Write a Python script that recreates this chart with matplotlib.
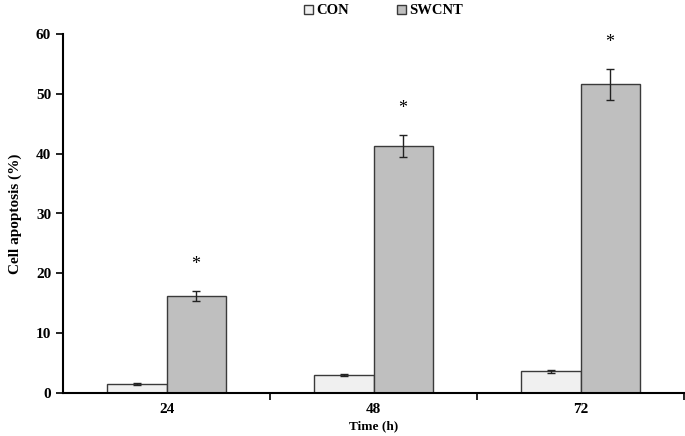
import matplotlib
matplotlib.use("Agg")
import matplotlib.pyplot as plt
import numpy as np

# values
times = ["24", "48", "72"]
con = [1.5, 3.0, 3.6]
con_err = [0.1, 0.15, 0.2]
swcnt = [16.2, 41.3, 51.6]
swcnt_err = [0.9, 1.9, 2.6]

plt.rcParams['font.family'] = ['Liberation Serif', 'DejaVu Serif']
plt.rcParams['font.weight'] = 'bold'

fig = plt.figure(figsize=(6.85, 4.36), dpi=100)
ax = fig.add_axes([63/685, 43/436, 621/685, 359/436])

x = np.arange(len(times))
w = 0.286
ekw = dict(ecolor='#222222', elinewidth=1, capsize=3, capthick=1)
ax.bar(x - w/2, con, w, yerr=con_err, color='#f0f0f0', edgecolor='#3a3a3a',
       linewidth=1, label='CON', error_kw=ekw)
ax.bar(x + w/2, swcnt, w, yerr=swcnt_err, color='#bfbfbf', edgecolor='#3a3a3a',
       linewidth=1, label='SWCNT', error_kw=ekw)

# significance marks
for xi, v, e in zip(x, swcnt, swcnt_err):
    ax.text(xi + w/2, v + e + 4.4, '*', ha='center', va='center', fontsize=13,
            fontweight='normal')

ax.set_xlim(-0.5, 2.5)
ax.set_ylim(0, 60)
ax.set_yticks(range(0, 61, 10))
ax.set_xticks(x)
ax.set_xticklabels(times)
ax.set_xticks([0.5, 1.5, 2.5], minor=True)
ax.tick_params(axis='x', which='major', length=0, pad=7, labelsize=11)
ax.tick_params(axis='x', which='minor', length=5, width=1.2, direction='out')
ax.tick_params(axis='y', length=5, width=1.2, direction='out', labelsize=11)

for s in ['top', 'right']:
    ax.spines[s].set_visible(False)
for s in ['left', 'bottom']:
    ax.spines[s].set_linewidth(1.5)

ax.set_xlabel('Time (h)', fontsize=9.5, fontweight='bold', labelpad=3)
ax.set_ylabel('Cell apoptosis (%)', fontsize=11, fontweight='bold', labelpad=10)

fig.legend(loc='upper center', bbox_to_anchor=(0.56, 1.02), ncol=2, frameon=False,
           handlelength=0.6, handleheight=0.6, handletextpad=0.2,
           columnspacing=3.35, fontsize=10.5)

fig.savefig('out.png', dpi=100)
